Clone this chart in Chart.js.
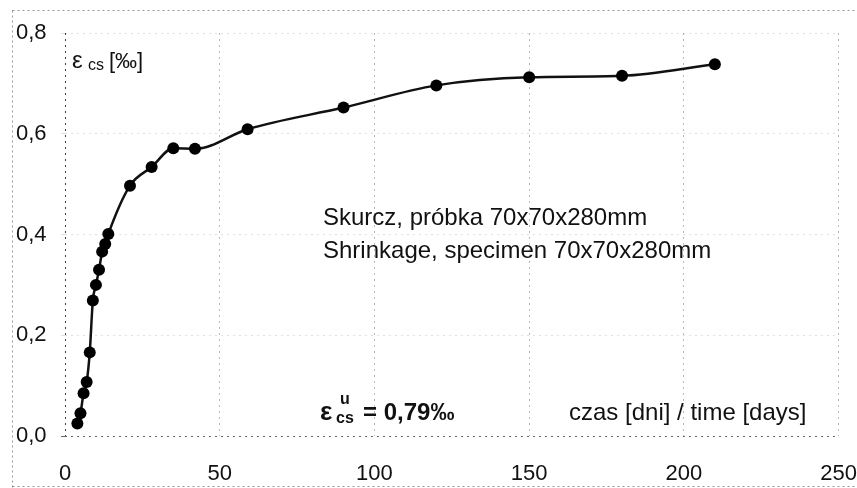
<!DOCTYPE html>
<html>
<head>
<meta charset="utf-8">
<script src="https://cdn.jsdelivr.net/npm/chart.js@4"></script>
<style>
  html, body { margin: 0; padding: 0; background: #fff; }
  #wrap { width: 857px; height: 488px; }
</style>
</head>
<body>
<div id="wrap"><canvas id="shrinkChart" width="857" height="488"></canvas></div>
<script>
// shrinkage vs time
const days = [4, 5, 6, 7, 8, 9, 10, 11, 12, 13, 14, 21, 28, 35, 42, 59, 90, 120, 150, 180, 210];
const strain = [0.025, 0.045, 0.085, 0.107, 0.166, 0.269, 0.300, 0.330, 0.366, 0.381, 0.401,
                0.497, 0.534, 0.571, 0.570, 0.609, 0.652, 0.696, 0.712, 0.715, 0.738];
const xTicks = [0, 50, 100, 150, 200, 250];
const yTicks = [0, 0.2, 0.4, 0.6, 0.8];

const FONT = '"Liberation Sans", Arial, Helvetica, sans-serif';
const INK = '#111';

// dotted frame round the whole figure + text annotations
const decorations = {
  id: 'decorations',
  beforeDraw(chart) {
    const ctx = chart.ctx;
    ctx.save();
    ctx.fillStyle = '#fff';
    ctx.fillRect(0, 0, chart.width, chart.height);
    ctx.strokeStyle = 'rgba(0,0,0,0.4)';
    ctx.lineWidth = 1;
    ctx.setLineDash([2, 3]);
    ctx.beginPath();
    ctx.moveTo(12.5, 10.5); ctx.lineTo(chart.width, 10.5);
    ctx.moveTo(12.5, 10.5); ctx.lineTo(12.5, chart.height);
    ctx.moveTo(12.5, 486.5); ctx.lineTo(chart.width, 486.5);
    ctx.stroke();
    ctx.restore();
  },
  afterDraw(chart) {
    const ctx = chart.ctx;
    ctx.save();
    ctx.fillStyle = INK;
    ctx.textBaseline = 'alphabetic';
    ctx.textAlign = 'left';

    // axis title: eps_cs [permille]
    ctx.font = '24px ' + FONT;
    ctx.fillText('\u03b5', 72, 68);
    ctx.font = '16px ' + FONT;
    ctx.fillText('cs', 88, 70);
    ctx.font = '22px ' + FONT;
    ctx.fillText('[\u2030]', 109, 68);

    // specimen note
    ctx.font = '24px ' + FONT;
    ctx.fillText('Skurcz, pr\u00f3bka 70x70x280mm', 323, 225);
    ctx.fillText('Shrinkage, specimen 70x70x280mm', 323, 258);

    // ultimate shrinkage
    ctx.font = 'bold 26px ' + FONT;
    ctx.fillText('\u03b5', 320, 420);
    ctx.font = 'bold 16px ' + FONT;
    ctx.fillText('cs', 336, 423);
    ctx.fillText('u', 340, 404);
    ctx.font = 'bold 24px ' + FONT;
    ctx.fillText('= 0,79\u2030', 363, 420);

    // x axis title
    ctx.font = '24px ' + FONT;
    ctx.fillText('czas [dni] / time [days]', 569, 420);
    ctx.restore();
  }
};

function xGridColor(c) {
  if (c.tick && c.tick.value === 0) return 'rgba(0,0,0,0.75)';
  return 'rgba(0,0,0,0.28)';
}
function yGridColor(c) {
  if (c.tick && c.tick.value === 0) return 'rgba(0,0,0,0.6)';
  return 'rgba(0,0,0,0.12)';
}

new Chart(document.getElementById('shrinkChart'), {
  type: 'scatter',
  data: {
    datasets: [{
      data: days.map((d, i) => ({ x: d, y: strain[i] })),
      showLine: true,
      borderColor: INK,
      borderWidth: 2.5,
      cubicInterpolationMode: 'monotone',
      pointRadius: 6,
      pointBackgroundColor: '#000',
      pointBorderColor: '#000',
      pointBorderWidth: 0
    }]
  },
  options: {
    responsive: false,
    animation: false,
    layout: { padding: { left: 16, right: 0, top: 33, bottom: 0 } },
    plugins: { legend: { display: false }, tooltip: { enabled: false } },
    scales: {
      x: {
        type: 'linear',
        min: 0, max: 250,
        afterBuildTicks: s => { s.ticks = xTicks.map(v => ({ value: v })); },
        afterFit: s => { s.height = 52; },
        grid: { color: xGridColor, lineWidth: 1, tickLength: 25, tickColor: 'transparent' },
        border: { display: false, dash: [2, 4] },
        ticks: {
          color: INK,
          padding: 0,
          font: { family: FONT, size: 22 },
          callback: v => String(v)
        }
      },
      y: {
        type: 'linear',
        min: 0, max: 0.8,
        afterBuildTicks: s => { s.ticks = yTicks.map(v => ({ value: v })); },
        afterFit: s => { s.width = 49; },
        grid: { color: yGridColor, lineWidth: 1, tickLength: 4 },
        border: { display: false, dash: [2, 4] },
        ticks: {
          color: INK,
          crossAlign: 'far',
          font: { family: FONT, size: 22 },
          callback: v => v.toFixed(1).replace('.', ',')
        }
      }
    }
  },
  plugins: [decorations]
});
</script>
</body>
</html>
